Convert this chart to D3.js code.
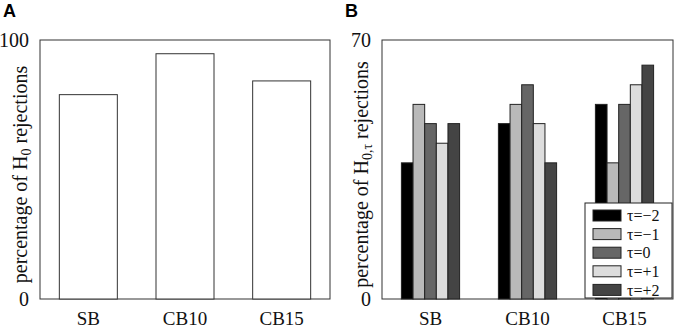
<!DOCTYPE html>
<html>
<head>
<meta charset="utf-8">
<script src="https://cdn.jsdelivr.net/npm/d3@7.9.0/dist/d3.min.js"></script>
<style>
  body { margin: 0; background: #fff; }
  svg text { font-family: "Liberation Serif", "Times New Roman", serif; }
</style>
</head>
<body>
<svg id="chart" width="675" height="329"></svg>
<script>
const categories = ["SB", "CB10", "CB15"];

// panel A: percentage of H0 rejections
const totalRejections = [78.9, 94.7, 84.2];

// panel B: percentage of H0,tau rejections per lag
const lags = ["τ=−2", "τ=−1", "τ=0", "τ=+1", "τ=+2"];
const lagRejections = [
  [36.8, 52.6, 47.4, 42.1, 47.4],   // SB
  [47.4, 52.6, 57.9, 47.4, 36.8],   // CB10
  [52.6, 36.8, 52.6, 57.9, 63.2]    // CB15
];
const lagColors = ["#000000", "#b9b9b9", "#666666", "#dddddd", "#444444"];

const svg = d3.select("#chart");

function panel(left, top, width, height, yMax, sub, labelX) {
  const g = svg.append("g").attr("transform", `translate(${left},${top})`);

  const x = d3.scaleBand().domain(categories).range([0, width])
    .paddingInner(0.4).paddingOuter(0.2);
  const y = d3.scaleLinear().domain([0, yMax]).range([height, 0]);

  // frame
  g.append("rect")
    .attr("width", width).attr("height", height)
    .attr("fill", "none").attr("stroke", "#333").attr("stroke-width", 1);

  // y ticks: only 0 and max
  g.selectAll(".ytick").data([0, yMax]).enter().append("text")
    .attr("x", -11).attr("y", d => y(d))
    .attr("dy", "0.35em")
    .attr("text-anchor", "end")
    .attr("font-size", "20px")
    .attr("fill", "#111")
    .text(d => d);

  // category labels
  g.selectAll(".xlab").data(categories).enter().append("text")
    .attr("x", d => x(d) + x.bandwidth() / 2)
    .attr("y", height + 26)
    .attr("text-anchor", "middle")
    .attr("font-size", "19px")
    .attr("fill", "#111")
    .text(d => d);

  // rotated y label with subscript
  const t = g.append("text")
    .attr("transform", `translate(${labelX},${height / 2 + 5}) rotate(-90)`)
    .attr("text-anchor", "middle")
    .attr("font-size", "20px")
    .attr("fill", "#111");
  t.append("tspan").text("percentage of H");
  t.append("tspan").attr("font-size", "14px").attr("dy", "4").text(sub);
  t.append("tspan").attr("dy", "-4").text(" rejections");

  return { g, x, y };
}

// panel letters
svg.append("text").attr("x", 3).attr("y", 17)
  .style("font-family", "'Liberation Sans', Arial, sans-serif")
  .attr("font-weight", "bold").attr("font-size", "18px").text("A");
svg.append("text").attr("x", 345).attr("y", 17)
  .style("font-family", "'Liberation Sans', Arial, sans-serif")
  .attr("font-weight", "bold").attr("font-size", "18px").text("B");

// ---- Panel A
const A = panel(40, 40, 290, 259, 100, "0", -13);
A.g.selectAll(".bar").data(totalRejections).enter().append("rect")
  .attr("x", (d, i) => A.x(categories[i]))
  .attr("y", d => A.y(d))
  .attr("width", A.x.bandwidth())
  .attr("height", d => A.y(0) - A.y(d))
  .attr("fill", "#fff")
  .attr("stroke", "#333")
  .attr("stroke-width", 1);

// ---- Panel B
const B = panel(382, 40, 291, 259, 70, "0,τ", -14);
const xs = d3.scaleBand().domain(d3.range(lags.length)).range([0, B.x.bandwidth()]);

const groups = B.g.selectAll(".grp").data(lagRejections).enter().append("g")
  .attr("transform", (d, i) => `translate(${B.x(categories[i])},0)`);
groups.selectAll("rect").data(d => d).enter().append("rect")
  .attr("x", (d, j) => xs(j))
  .attr("y", d => B.y(d))
  .attr("width", xs.bandwidth())
  .attr("height", d => B.y(0) - B.y(d))
  .attr("fill", (d, j) => lagColors[j])
  .attr("stroke", "#222")
  .attr("stroke-width", 1);

// legend
const leg = B.g.append("g").attr("transform", "translate(203,163)");
leg.append("rect")
  .attr("width", 87).attr("height", 95)
  .attr("fill", "#fff").attr("stroke", "#222").attr("stroke-width", 1);
const rows = leg.selectAll(".row").data(lags).enter().append("g")
  .attr("transform", (d, i) => `translate(8,${7 + i * 18.6})`);
rows.append("rect")
  .attr("width", 28).attr("height", 11)
  .attr("fill", (d, i) => lagColors[i])
  .attr("stroke", "#222").attr("stroke-width", 1);
rows.append("text")
  .attr("x", 34).attr("y", 5.5).attr("dy", "0.35em")
  .attr("font-size", "16px").attr("fill", "#111")
  .text(d => d);
</script>
</body>
</html>
